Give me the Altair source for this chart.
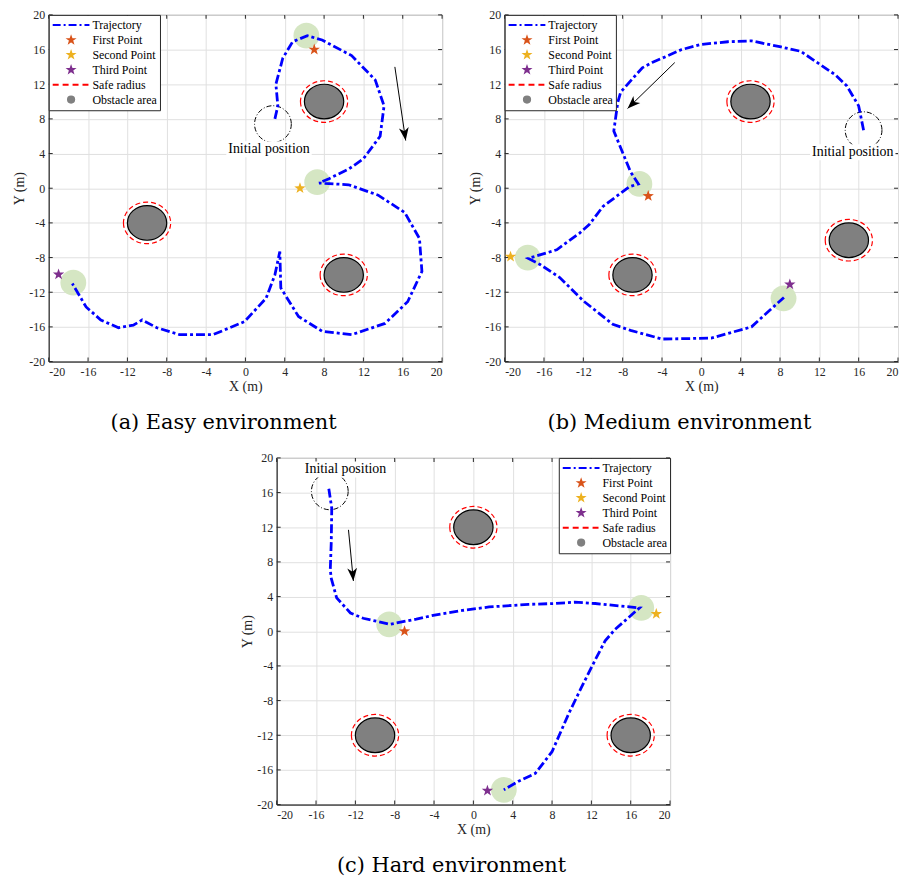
import math
import altair as alt
import pandas as pd

# ---------------- layout / style constants ----------------
W, H = 396, 349
XMIN, XMAX, YMIN, YMAX = -20, 20, -20, 20
PX = W / (XMAX - XMIN)          # pixels per x unit
PY = H / (YMAX - YMIN)          # pixels per y unit
SERIF = "Liberation Serif"
CAPTION_FONT = "DejaVu Serif"
TICKS = [-20, -16, -12, -8, -4, 0, 4, 8, 12, 16, 20]

LEGEND_LABELS = ["Trajectory", "First Point", "Second Point", "Third Point",
                 "Safe radius", "Obstacle area"]
STAR_COLORS = ["#D95319", "#EDB120", "#7E2F8E"]
OBSTACLE_R = 2.0
SAFE_R = 2.4

# ---------------- data: (a) easy ----------------
a_traj_x = [3.0, 3.3, 3.1, 3.8, 4.8, 6.3, 7.8, 10.8, 13.2, 14.1, 13.7, 12.0, 10.5, 8.5, 7.5,
            10.5, 13.5, 16.2, 17.7, 17.95, 16.5, 14.2, 10.8, 7.8, 5.4, 3.6, 3.5, 3.0, 2.1,
            -0.1, -3.3, -6.7, -9.0, -10.5, -11.4, -12.9, -14.7, -16.2, -17.6]
a_traj_y = [8.0, 9.5, 12.0, 15.0, 16.9, 17.6, 17.1, 15.3, 12.5, 9.5, 6.0, 3.4, 2.2, 1.1, 0.6,
            0.4, -0.8, -2.8, -5.8, -9.6, -13.1, -15.6, -16.9, -16.5, -14.8, -11.5, -7.3, -10.0, -12.7,
            -15.4, -16.9, -16.9, -16.1, -15.2, -15.8, -16.1, -15.2, -13.7, -11.0]
a_obs_x = [8, -10, 10]
a_obs_y = [10, -4, -10]
a_goal_x = [6.2, 7.3, -17.5]
a_goal_y = [17.6, 0.7, -10.9]
a_star_x = [7.0, 5.55, -19.0]
a_star_y = [16.0, 0.0, -9.95]
a_init = [2.8, 7.4]
a_text = [2.4, 4.5]
a_arrow = [15.2, 14.0, 16.3, 5.5]

# ---------------- data: (b) medium ----------------
b_traj_x = [16.5, 16.0, 14.8, 13.6, 10.1, 8.1, 5.1, 2.7, 0.0, -2.0, -5.0, -6.0, -8.2, -8.5, -8.9,
            -7.2, -6.4, -7.35, -8.7, -10.0, -11.4, -12.4, -14.7, -17.6, -16.4, -14.4, -12.0,
            -9.0, -7.2, -4.0, 1.0, 5.1, 8.4]
b_traj_y = [6.7, 9.5, 11.8, 13.1, 15.8, 16.3, 17.0, 16.9, 16.6, 16.0, 14.5, 13.9, 11.1, 9.9, 6.6,
            1.9, 0.5, 0.15, -1.0, -2.1, -4.2, -5.2, -7.1, -8.1, -8.8, -10.3, -13.0,
            -15.7, -16.4, -17.4, -17.3, -16.0, -12.6]
b_obs_x = [5, 15, -7]
b_obs_y = [10, -6, -10]
b_goal_x = [-6.3, -17.65, 8.36]
b_goal_y = [0.5, -8.0, -12.7]
b_star_x = [-5.4, -19.4, 9.0]
b_star_y = [-0.9, -7.9, -11.1]
b_init = [16.5, 6.7]
b_text = [15.4, 4.15]
b_arrow = [-2.7, 14.5, -7.5, 9.2]

# ---------------- data: (c) hard ----------------
c_traj_x = [-14.7, -14.4, -14.45, -14.55, -14.45, -13.9, -12.5, -11.2, -8.5, -5.8, -3.8, -1.1,
            1.6, 5.6, 8.3, 10.3, 12.4, 16.9, 15.6, 14.4, 13.4, 12.35, 11.0, 9.7, 8.0, 6.3, 4.6, 3.1]
c_traj_y = [16.45, 14.2, 10.3, 7.1, 6.1, 3.85, 2.1, 1.5, 0.8, 1.4, 1.9, 2.4,
            2.8, 3.1, 3.2, 3.35, 3.2, 2.7, 1.4, 0.2, -1.1, -3.4, -6.45, -9.5, -13.9, -16.4, -17.3, -18.3]
c_obs_x = [0, -10, 16]
c_obs_y = [12, -12, -12]
c_goal_x = [-8.56, 17.07, 3.1]
c_goal_y = [0.8, 2.7, -18.3]
c_star_x = [-7.0, 18.6, 1.43]
c_star_y = [0.0, 2.0, -18.4]
c_init = [-14.6, 16.14]
c_text = [-13.0, 18.66]
c_arrow = [-12.7, 11.7, -12.2, 5.8]


# ---------------- symbol shapes (style) ----------------
def ellipse_path(rx, ry):
    return (f"M {-rx:.4f} 0 A {rx:.4f} {ry:.4f} 0 1 0 {rx:.4f} 0 "
            f"A {rx:.4f} {ry:.4f} 0 1 0 {-rx:.4f} 0 Z")


def star_path(ro, ri):
    pts = []
    for k in range(10):
        ang = math.radians(-90 + 36 * k)
        r = ro if k % 2 == 0 else ri
        pts.append(f"{r * math.cos(ang):.4f} {r * math.sin(ang):.4f}")
    return "M " + " L ".join(pts) + " Z"


def dashed_path(pattern_px, total_px):
    """horizontal dashed line spanning [-1, 1] (symbol units)"""
    unit = total_px / 2.0
    pos, k, segs = 0.0, 0, []
    while pos < total_px:
        seg = pattern_px[k % len(pattern_px)]
        end = min(pos + seg, total_px)
        if k % 2 == 0:
            segs.append(f"M {pos / unit - 1:.4f} 0 L {end / unit - 1:.4f} 0")
        pos = end
        k += 1
    return " ".join(segs)


SYM_W = 37
LEG_SHAPES = [
    dashed_path([8, 3, 2, 3], SYM_W),
    star_path(0.15, 0.06),
    star_path(0.15, 0.06),
    star_path(0.15, 0.06),
    dashed_path([6, 4], SYM_W),
    ellipse_path(0.17, 0.17),
]
LEG_FILLS = ["transparent", STAR_COLORS[0], STAR_COLORS[1], STAR_COLORS[2], "transparent", "#808080"]
LEG_STROKES = ["#0000ff", STAR_COLORS[0], STAR_COLORS[1], STAR_COLORS[2], "#ff0000", "#808080"]

OBS_SHAPE = ellipse_path(1, PY / PX)
OBS_SIZE = (2 * OBSTACLE_R * PX) ** 2
SAFE_SIZE = (2 * SAFE_R * PX) ** 2
STAR_SHAPE = star_path(1, 0.4)
ARROW_SHAPE = "M 0 0 L -0.38 -1 L 0 -0.72 L 0.38 -1 Z"
TICK_LEN = 4
FRAME = "#262626"

AXIS_STYLE = dict(values=TICKS, labelExpr="'' + datum.value", grid=True, ticks=False,
                  labelFont=SERIF, labelFontSize=12, labelColor=FRAME,
                  titleFont=SERIF, titleFontSize=14, titleFontWeight="normal", titleColor=FRAME,
                  gridColor="#e0e0e0", gridWidth=1, domainColor=FRAME, domainWidth=1)
xscale = alt.Scale(domain=[XMIN, XMAX], nice=False, zero=False)
yscale = alt.Scale(domain=[YMIN, YMAX], nice=False, zero=False)
xaxis = alt.Axis(title="X (m)", labelPadding=5, titlePadding=2, **AXIS_STYLE)
yaxis = alt.Axis(title="Y (m)", labelPadding=4, titlePadding=2, **AXIS_STYLE)


def X(f="x"):
    return alt.X(f"{f}:Q", scale=xscale, axis=xaxis)


def Y(f="y"):
    return alt.Y(f"{f}:Q", scale=yscale, axis=yaxis)


def tick_layers():
    """inward tick marks on all four sides of the box (MATLAB style)"""
    n = len(TICKS)
    tdf = pd.DataFrame({"t": TICKS, "lo_y": [YMIN] * n, "hi_y": [YMAX] * n,
                        "lo_x": [XMIN] * n, "hi_x": [XMAX] * n})
    base = alt.Chart(tdf)
    h = TICK_LEN / 2
    return [
        base.mark_tick(orient="vertical", size=TICK_LEN, thickness=1, color=FRAME, opacity=1,
                       yOffset=-h).encode(x=X("t"), y=Y("lo_y")),
        base.mark_tick(orient="vertical", size=TICK_LEN, thickness=1, color=FRAME, opacity=1,
                       yOffset=h).encode(x=X("t"), y=Y("hi_y")),
        base.mark_tick(orient="horizontal", size=TICK_LEN, thickness=1, color=FRAME, opacity=1,
                       xOffset=h).encode(x=X("lo_x"), y=Y("t")),
        base.mark_tick(orient="horizontal", size=TICK_LEN, thickness=1, color=FRAME, opacity=1,
                       xOffset=-h).encode(x=X("hi_x"), y=Y("t")),
    ]


def panel(traj_x, traj_y, obs_x, obs_y, goal_x, goal_y, star_x, star_y,
          init_xy, text_xy, arrow, orient, caption):
    traj = pd.DataFrame({"x": traj_x, "y": traj_y, "i": list(range(len(traj_x)))})
    obs = pd.DataFrame({"x": obs_x, "y": obs_y})
    goals = pd.DataFrame({"x": goal_x, "y": goal_y})
    stars = pd.DataFrame({"x": star_x, "y": star_y, "c": STAR_COLORS})
    init = pd.DataFrame({"x": [init_xy[0]], "y": [init_xy[1]]})
    hw, hh = 43 / PX, 8 / PY
    txt = pd.DataFrame({"x": [text_xy[0]], "y": [text_xy[1]], "t": ["Initial position"],
                        "x0": [text_xy[0] - hw], "x1": [text_xy[0] + hw],
                        "y0": [text_xy[1] - hh], "y1": [text_xy[1] + hh]})
    dxp = (arrow[2] - arrow[0]) * PX
    dyp = -(arrow[3] - arrow[1]) * PY
    ang = math.degrees(math.atan2(-dxp, dyp)) % 360
    arr = pd.DataFrame({"x": [arrow[0]], "y": [arrow[1]], "x2": [arrow[2]], "y2": [arrow[3]]})
    leg = pd.DataFrame({"series": LEGEND_LABELS})

    L = alt.Legend(orient=orient, offset=0, padding=3, title=None, labelFont=SERIF,
                   labelFontSize=12, labelColor="black", labelOffset=2, symbolSize=SYM_W ** 2,
                   symbolStrokeWidth=2, symbolOpacity=1, clipHeight=14.5, rowPadding=0,
                   strokeColor=FRAME, fillColor="white", cornerRadius=0)

    layers = tick_layers() + [
        alt.Chart(goals).mark_circle(size=676, color="#d5e6c3", opacity=1).encode(x=X(), y=Y()),
        alt.Chart(obs).mark_point(shape=OBS_SHAPE, size=SAFE_SIZE, filled=False, color="#ff0000",
                                  strokeWidth=1.2, strokeDash=[5, 3], opacity=1).encode(x=X(), y=Y()),
        alt.Chart(obs).mark_point(shape=OBS_SHAPE, size=OBS_SIZE, filled=True, fill="#808080",
                                  stroke="black", strokeWidth=1.2, opacity=1).encode(x=X(), y=Y()),
        alt.Chart(init).mark_point(shape="circle", size=37 ** 2, filled=False, color="black",
                                   strokeWidth=1, strokeDash=[5, 2, 1, 2], opacity=1).encode(x=X(), y=Y()),
        alt.Chart(traj).mark_line(color="#0000ff", strokeWidth=2.8, strokeDash=[9, 3, 3, 3]).encode(
            x=X(), y=Y(), order="i:Q"),
        alt.Chart(stars).mark_point(shape=STAR_SHAPE, size=144, filled=True, opacity=1).encode(
            x=X(), y=Y(), color=alt.Color("c:N", scale=None)),
        alt.Chart(arr).mark_rule(color="black", strokeWidth=1).encode(
            x=X(), y=Y(), x2=alt.X2("x2"), y2=alt.Y2("y2")),
        alt.Chart(arr).mark_point(shape=ARROW_SHAPE, size=26 ** 2, filled=True, color="black",
                                  opacity=1, angle=ang).encode(x=X("x2"), y=Y("y2")),
        alt.Chart(txt).mark_rect(color="white").encode(
            x=X("x0"), x2=alt.X2("x1"), y=Y("y0"), y2=alt.Y2("y1")),
        alt.Chart(txt).mark_text(font=SERIF, fontSize=14, color="black", align="center",
                                 baseline="middle").encode(x=X(), y=Y(), text="t:N"),
        alt.Chart(leg).mark_point(filled=True, opacity=0).encode(
            fill=alt.Fill("series:N", scale=alt.Scale(domain=LEGEND_LABELS, range=LEG_FILLS), legend=L),
            stroke=alt.Stroke("series:N", scale=alt.Scale(domain=LEGEND_LABELS, range=LEG_STROKES), legend=L),
            shape=alt.Shape("series:N", scale=alt.Scale(domain=LEGEND_LABELS, range=LEG_SHAPES), legend=L),
        ),
    ]
    return alt.layer(*layers).properties(
        width=W, height=H,
        title=alt.TitleParams(caption, orient="bottom", anchor="middle", frame="group",
                              font=CAPTION_FONT, fontSize=21, fontWeight="normal",
                              color="black", offset=19, dx=-22),
    )


pa = panel(a_traj_x, a_traj_y, a_obs_x, a_obs_y, a_goal_x, a_goal_y, a_star_x, a_star_y,
           a_init, a_text, a_arrow, "top-left", "(a) Easy environment")
pb = panel(b_traj_x, b_traj_y, b_obs_x, b_obs_y, b_goal_x, b_goal_y, b_star_x, b_star_y,
           b_init, b_text, b_arrow, "top-left", "(b) Medium environment")
pc = panel(c_traj_x, c_traj_y, c_obs_x, c_obs_y, c_goal_x, c_goal_y, c_star_x, c_star_y,
           c_init, c_text, c_arrow, "top-right", "(c) Hard environment")

ind = dict(fill="independent", stroke="independent", shape="independent")
top = alt.hconcat(pa, pb, spacing=25).resolve_scale(**ind).resolve_legend(**ind)
chart = alt.vconcat(top, pc, spacing=17, center=True).resolve_scale(**ind).resolve_legend(**ind)

chart = chart.configure(
    padding={"left": 4, "top": -3, "right": 0, "bottom": 0}, background="white"
).configure_view(
    stroke=FRAME, strokeWidth=1
)

chart.save("out.html", embed_options={"renderer": "svg", "actions": False})
